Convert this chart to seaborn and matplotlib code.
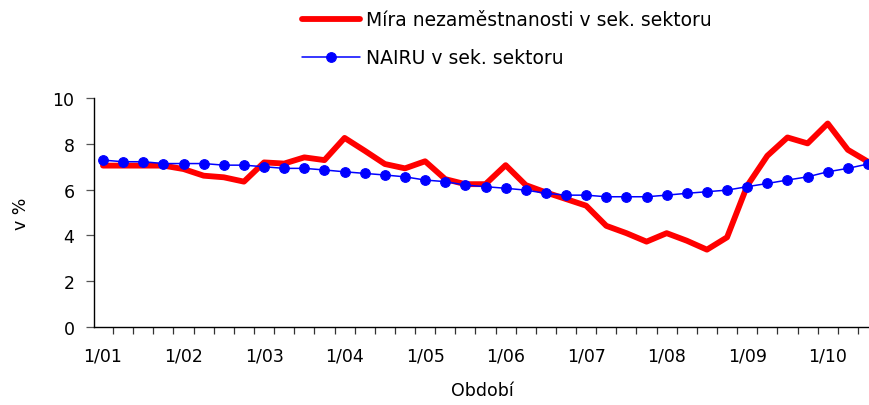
import numpy as np
import pandas as pd
import matplotlib
matplotlib.use("Agg")
import matplotlib.pyplot as plt
import seaborn as sns

# quarterly data 1/01 .. 3/10
years = ["01", "02", "03", "04", "05", "06", "07", "08", "09", "10"]
periods = [f"{q}/{y}" for y in years for q in range(1, 5)][:39]

unemployment = [7.05, 7.05, 7.05, 7.05, 6.90, 6.61, 6.54, 6.35,
                7.19, 7.14, 7.41, 7.29, 8.26, 7.70, 7.12, 6.93,
                7.24, 6.46, 6.24, 6.24, 7.07, 6.20, 5.88, 5.59,
                5.30, 4.42, 4.10, 3.73, 4.10, 3.77, 3.38, 3.92,
                6.17, 7.48, 8.28, 8.02, 8.89, 7.74, 7.22]
nairu = [7.29, 7.22, 7.22, 7.14, 7.14, 7.14, 7.07, 7.07,
         7.00, 6.93, 6.93, 6.86, 6.78, 6.71, 6.64, 6.56,
         6.42, 6.35, 6.20, 6.13, 6.06, 5.98, 5.84, 5.76,
         5.76, 5.69, 5.69, 5.69, 5.76, 5.84, 5.91, 5.98,
         6.13, 6.27, 6.42, 6.56, 6.78, 6.93, 7.12]

label_red = "Míra nezaměstnanosti v sek. sektoru"
label_blue = "NAIRU v sek. sektoru"

df = pd.DataFrame({"pos": np.arange(len(periods)), "period": periods,
                   "unemp": unemployment, "nairu": nairu})

sns.set_style("white")
plt.rcParams["font.family"] = ["DejaVu Sans"]
plt.rcParams["font.size"] = 12.5
plt.rcParams["text.color"] = "black"
plt.rcParams["axes.labelcolor"] = "black"
plt.rcParams["xtick.color"] = "black"
plt.rcParams["ytick.color"] = "black"

fig = plt.figure(figsize=(8.7, 4.06), dpi=100)
ax = fig.add_axes([0.108, 0.192, 0.892, 0.564])

sns.lineplot(data=df, x="pos", y="unemp", ax=ax, color="#ff0000",
             linewidth=4.2, label=label_red, legend=False)
sns.lineplot(data=df, x="pos", y="nairu", ax=ax, color="#0000ff",
             linewidth=1.1, marker="o", markersize=7, markeredgecolor="#0000ff",
             label=label_blue, legend=False)

ax.set_xlim(-0.45, 38.1)
ax.set_ylim(0, 10)
ax.set_yticks([0, 2, 4, 6, 8, 10])
ax.set_xticks(df["pos"][::4])
ax.set_xticklabels(df["period"][::4])
ax.set_xticks(np.arange(0.5, 38, 1), minor=True)
ax.tick_params(axis="x", which="major", length=0, pad=14, bottom=True)
ax.tick_params(axis="x", which="minor", length=5, width=0.9, color="#333333",
               direction="out", bottom=True)
ax.tick_params(axis="y", which="major", length=6, width=0.9, color="#555555",
               direction="out", pad=8, left=True)

for s in ["top", "right"]:
    ax.spines[s].set_visible(False)
for s in ["left", "bottom"]:
    ax.spines[s].set_color("black")
    ax.spines[s].set_linewidth(1.0)

ax.set_xlabel("Období", labelpad=12)
ax.set_ylabel("v %", labelpad=16)

handles, labels = ax.get_legend_handles_labels()
fig.legend(handles, labels, loc="upper left", bbox_to_anchor=(293 / 870, 0.995),
           frameon=False, borderpad=0, handlelength=3.1, handletextpad=0.3,
           labelspacing=1.0, fontsize=13.5)

fig.savefig("out.png", dpi=100)
